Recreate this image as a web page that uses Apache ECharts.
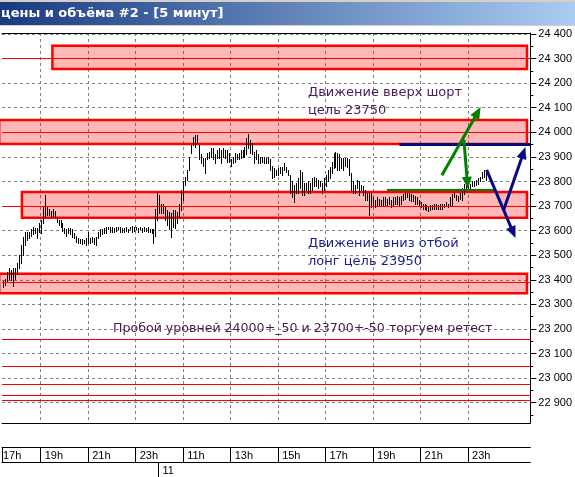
<!DOCTYPE html>
<html><head><meta charset="utf-8">
<script src="https://cdn.jsdelivr.net/npm/echarts@6/dist/echarts.min.js"></script>
<style>html,body{margin:0;padding:0;background:#fff}#c{width:575px;height:477px}</style>
</head><body><div id="c"></div>
<script>
// ---- data ----
const barStart = 5; // index of first 5-minute bar (17:00 = 0)
const highs = [
23395,23405,23430,23450,23440,23450,23450,23470,23500,23540,
23575,23595,23595,23595,23605,23615,23610,23610,23630,23645,
23695,23745,23695,23690,23680,23690,23680,23655,23645,23645,
23630,23610,23605,23610,23610,23605,23590,23580,23570,23565,
23565,23560,23570,23595,23570,23575,23570,23575,23595,23605,
23605,23610,23615,23615,23615,23615,23610,23615,23615,23615,
23610,23610,23615,23605,23615,23620,23615,23615,23610,23615,
23610,23615,23610,23615,23605,23605,23605,23690,23755,23745,
23710,23710,23695,23685,23675,23670,23685,23685,23675,23710,
23765,23800,23820,23845,23900,23950,23980,23990,23990,23950,
23910,23895,23895,23915,23920,23935,23935,23910,23930,23935,
23930,23935,23930,23930,23915,23890,23900,23915,23910,23915,
23930,23930,23940,23975,23995,23970,23955,23920,23930,23910,
23900,23900,23900,23895,23900,23890,23865,23855,23845,23855,
23860,23860,23875,23860,23845,23825,23800,23785,23795,23815,
23845,23840,23795,23795,23800,23795,23815,23820,23815,23805,
23800,23795,23815,23825,23845,23860,23880,23915,23920,23915,
23910,23895,23895,23895,23895,23890,23835,23800,23785,23805,
23800,23785,23780,23765,23755,23755,23755,23735,23725,23735,
23730,23725,23735,23735,23730,23735,23725,23735,23735,23740,
23735,23740,23750,23755,23755,23755,23750,23745,23740,23735,
23725,23715,23710,23710,23705,23700,23705,23705,23710,23710,
23705,23710,23710,23710,23715,23710,23735,23750,23755,23745,
23740,23755,23775,23790,23785,23790,23790,23800,23800,23805,
23815,23820,23840,23845,23840];
const lows = [
23370,23380,23390,23405,23400,23375,23405,23425,23450,23470,
23500,23540,23560,23570,23580,23585,23590,23570,23595,23590,
23630,23655,23665,23665,23655,23660,23655,23635,23625,23615,
23600,23590,23580,23590,23585,23575,23570,23555,23550,23550,
23545,23550,23540,23550,23550,23555,23545,23540,23570,23580,
23585,23590,23590,23605,23595,23595,23595,23600,23605,23595,
23595,23595,23600,23595,23605,23595,23600,23605,23595,23605,
23595,23600,23600,23595,23595,23590,23550,23580,23645,23670,
23670,23670,23645,23625,23605,23575,23615,23610,23630,23655,
23685,23725,23785,23805,23845,23915,23950,23940,23955,23890,
23875,23865,23835,23890,23895,23900,23890,23875,23895,23895,
23875,23900,23895,23880,23880,23865,23875,23880,23890,23890,
23895,23900,23900,23910,23935,23915,23910,23875,23890,23875,
23875,23880,23875,23875,23875,23845,23815,23820,23825,23825,
23835,23825,23845,23840,23825,23755,23735,23715,23755,23755,
23775,23745,23745,23765,23755,23755,23765,23780,23780,23775,
23780,23755,23765,23780,23800,23815,23835,23855,23860,23845,
23845,23855,23845,23865,23860,23825,23765,23755,23755,23775,
23745,23765,23745,23725,23725,23665,23695,23705,23695,23705,
23700,23705,23700,23705,23700,23710,23695,23705,23710,23710,
23700,23710,23725,23730,23735,23725,23720,23720,23710,23710,
23700,23695,23690,23690,23685,23680,23685,23690,23690,23690,
23690,23690,23690,23695,23700,23695,23700,23705,23735,23725,
23720,23730,23725,23750,23765,23770,23775,23780,23780,23785,
23790,23800,23815,23820,23805];
const lastClose = 23811;

const priceTicks = [22900,23000,23100,23200,23300,23400,23500,23600,23700,23800,23900,24000,24100,24200,24300,24400];
const minorPriceTicks = [22850,22950,23050,23150,23250,23350,23450,23550,23650,23750,23850,23950,24050,24150,24250,24350];
const timeTickValues = [0,24,48,72,96,120,144,168,192,216,240];
const timeTickLabels = ['17h','19h','21h','23h','11h','13h','15h','17h','19h','21h','23h'];
const dayBreaks = [83.5];
const dayLabels = ['11'];

// zones: [startBar, endBar, lowPrice, highPrice]
const zones = [
  [29.9, 269.8, 24258, 24352],
  [3, 269.8, 23952, 24050],
  [14.5, 269.8, 23652, 23757],
  [3, 269.8, 23345, 23425]
];
const levels = [24300, 24000, 23700, 23390, 23160, 23050, 22975, 22930, 22910];
// arrows: [fromBar, fromPrice, toBar, toPrice]
const greenArrows = [[226.8, 23825, 246.4, 24103], [237.9, 23970, 239.9, 23770]];
const navyArrows = [[249.4, 23847, 264, 23570], [258, 23684, 269, 23940]];
// segments: [fromBar, toBar, price]
const greenSegments = [[199, 254, 23765]];
const navySegments = [[205.3, 271.5, 23950]];

// ---- chart ----
const X_MIN = 4.42, X_MAX = 271.5, Y_MIN = 22817.6, Y_MAX = 24404;
const fmtPrice = v => { const s = String(Math.round(v)); return s.slice(0, s.length - 3) + ' ' + s.slice(-3); };
const axisFont = { fontFamily: 'Liberation Sans', fontSize: 11, color: '#000' };
const labelTickValues = timeTickValues.map(v => Math.max(v, X_MIN));

function renderBar(params, api) {
  const t = api.coord([api.value(0), api.value(1)]);
  const b = api.coord([api.value(0), api.value(2)]);
  const x = Math.round(t[0]) + 0.5;
  return { type: 'line', shape: { x1: x, y1: Math.round(t[1]), x2: x, y2: Math.round(b[1]) + 1 },
    style: { stroke: '#000', lineWidth: 1 } };
}
function renderZone(params, api) {
  const p0 = api.coord([api.value(0), api.value(3)]);
  const p1 = api.coord([api.value(1), api.value(2)]);
  return { type: 'rect', shape: { x: p0[0], y: p0[1], width: p1[0] - p0[0], height: p1[1] - p0[1] },
    style: { fill: 'rgba(255,0,0,0.28)', stroke: '#ff0000', lineWidth: 2.5 } };
}
function arrowRenderer(color) {
  return function (params, api) {
    const a = api.coord([api.value(0), api.value(1)]);
    const b = api.coord([api.value(2), api.value(3)]);
    const dx = b[0] - a[0], dy = b[1] - a[1], L = Math.hypot(dx, dy), ux = dx / L, uy = dy / L;
    const hl = 12, hw = 5;
    const base = [b[0] - ux * hl, b[1] - uy * hl];
    return { type: 'group', children: [
      { type: 'line', shape: { x1: a[0], y1: a[1], x2: base[0] + ux * 2, y2: base[1] + uy * 2 }, style: { stroke: color, lineWidth: 3 } },
      { type: 'polygon', shape: { points: [b, [base[0] - uy * hw, base[1] + ux * hw], [base[0] + uy * hw, base[1] - ux * hw]] }, style: { fill: color } }
    ] };
  };
}
function segmentRenderer(color, w) {
  return function (params, api) {
    const a = api.coord([api.value(0), api.value(2)]);
    const b = api.coord([api.value(1), api.value(2)]);
    return { type: 'line', shape: { x1: a[0], y1: a[1], x2: b[0], y2: b[1] }, style: { stroke: color, lineWidth: w } };
  };
}

const chart = echarts.init(document.getElementById('c'), null, { renderer: 'canvas' });
const dash = { color: '#808080', type: [3, 3], width: 1 };

chart.setOption({
  animation: false,
  backgroundColor: '#fff',
  grid: { left: 0, right: 43, top: 33, bottom: 54 },
  xAxis: [
    { type: 'value', min: X_MIN, max: X_MAX, position: 'bottom',
      axisLine: { show: true, onZero: false, lineStyle: { color: '#000', width: 1 } },
      axisTick: { show: false, customValues: timeTickValues },
      axisLabel: { show: false },
      splitLine: { show: true, lineStyle: dash } },
    { type: 'value', min: X_MIN, max: X_MAX, position: 'bottom', offset: 24,
      axisLine: { show: true, onZero: false, lineStyle: { color: '#000', width: 1 } },
      axisTick: { show: true, length: 15, customValues: labelTickValues, lineStyle: { color: '#000' } },
      axisLabel: { show: true, customValues: labelTickValues, align: 'left', margin: 3, ...axisFont,
        formatter: v => { const i = labelTickValues.indexOf(v); const s = i >= 0 ? timeTickLabels[i] : ''; return i === 0 ? '{f|' + s + '}' : s; },
        padding: [0, 0, 0, 4],
        rich: { f: { padding: [0, 0, 0, -3], fontFamily: 'Liberation Sans', fontSize: 11, color: '#000' } } },
      splitLine: { show: false } },
    { type: 'value', min: X_MIN, max: X_MAX, position: 'bottom', offset: 39,
      axisLine: { show: true, onZero: false, lineStyle: { color: '#000', width: 1 } },
      axisTick: { show: true, length: 15, customValues: dayBreaks, lineStyle: { color: '#000' } },
      axisLabel: { show: true, customValues: dayBreaks, align: 'left', margin: 3, padding: [0, 0, 0, 4], ...axisFont,
        formatter: v => { const i = dayBreaks.indexOf(v); return i >= 0 ? dayLabels[i] : ''; } },
      splitLine: { show: false } },
    { type: 'value', min: X_MIN, max: X_MAX, position: 'top',
      axisLine: { show: true, onZero: false, lineStyle: { color: '#000', width: 1 } },
      axisTick: { show: false }, axisLabel: { show: false }, splitLine: { show: false } }
  ],
  yAxis: [
    { type: 'value', min: Y_MIN, max: Y_MAX, position: 'right',
      axisLine: { show: true, onZero: false, lineStyle: { color: '#000', width: 1 } },
      axisTick: { show: true, length: 6, customValues: priceTicks, lineStyle: { color: '#000' } },
      axisLabel: { show: true, customValues: priceTicks, margin: 8, ...axisFont, formatter: fmtPrice },
      splitLine: { show: true, lineStyle: dash } },
    { type: 'value', min: Y_MIN, max: Y_MAX, position: 'right',
      axisLine: { show: false },
      axisTick: { show: true, length: 3, customValues: minorPriceTicks, lineStyle: { color: '#000' } },
      axisLabel: { show: false }, splitLine: { show: false } }
  ],
  series: [
    { type: 'custom', name: 'zones', z: 1, renderItem: renderZone, data: zones, silent: true },
    { type: 'line', name: 'levels', z: 2, data: [], silent: true,
      markLine: { silent: true, symbol: 'none', animation: false, label: { show: false },
        lineStyle: { color: '#ff0000', width: 1, type: 'solid' },
        data: levels.map(v => ({ yAxis: v })) } },
    { type: 'custom', name: 'bars', z: 3, renderItem: renderBar, silent: true,
      encode: { x: 0, y: [1, 2] },
      data: highs.map((h, k) => [barStart + k, h, lows[k]]),
      markLine: { silent: true, symbol: 'none', animation: false,
        lineStyle: { opacity: 0 },
        label: { show: true, position: 'end', distance: 5, formatter: () => fmtPrice(lastClose),
          backgroundColor: '#fff', borderColor: '#000', borderWidth: 1, padding: [2, 4, 1, 3],
          fontFamily: 'Liberation Sans', fontSize: 11, color: '#000' },
        data: [{ yAxis: lastClose }] } },
    { type: 'custom', name: 'greenSeg', z: 4, renderItem: segmentRenderer('#008000', 2), data: greenSegments, silent: true },
    { type: 'custom', name: 'navySeg', z: 4, renderItem: segmentRenderer('#0a0a80', 3), data: navySegments, silent: true },
    { type: 'custom', name: 'greenArrows', z: 5, renderItem: arrowRenderer('#008000'), data: greenArrows, silent: true },
    { type: 'custom', name: 'navyArrows', z: 5, renderItem: arrowRenderer('#0a0a80'), data: navyArrows, silent: true }
  ],
  graphic: [
    { type: 'rect', z: 100, shape: { x: 0, y: 0, width: 575, height: 2 }, style: { fill: '#d4d0c8' } },
    { type: 'rect', z: 100, shape: { x: 0, y: 2, width: 575, height: 23 },
      style: { fill: new echarts.graphic.LinearGradient(0, 0, 1, 0, [{ offset: 0, color: '#1a3a80' }, { offset: 1, color: '#a8ccf2' }]) } },
    { type: 'rect', z: 100, shape: { x: 0, y: 25, width: 575, height: 1 }, style: { fill: '#d4d0c8' } },
    { type: 'text', z: 101, x: 1, y: 14, style: { text: 'цены и объёма #2 - [5 минут]', fill: '#fff',
      font: 'bold 13px "DejaVu Sans"', verticalAlign: 'middle' } },
    // window buttons
    ...[517, 535, 555].map((bx, k) => ({ type: 'group', z: 101, x: bx, y: 6, children: [
      { type: 'rect', shape: { x: 0, y: 0, width: 16, height: 14 }, style: { fill: '#d4d0c8', stroke: '#404040', lineWidth: 1 } },
      { type: 'polyline', shape: { points: [[0.5, 13], [0.5, 0.5], [15, 0.5]] }, style: { stroke: '#fff', lineWidth: 1 } },
      k === 0 ? { type: 'rect', shape: { x: 4, y: 9, width: 6, height: 2 }, style: { fill: '#000' } } :
      k === 1 ? { type: 'rect', shape: { x: 3.5, y: 2.5, width: 9, height: 8 }, style: { fill: 'none', stroke: '#000', lineWidth: 1 } } :
      { type: 'text', x: 8, y: 7.5, style: { text: 'X', font: 'bold 12px "Liberation Sans"', fill: '#000', align: 'center', verticalAlign: 'middle' } }
    ] })),
    { type: 'text', z: 50, x: 308, y: 84, style: { text: 'Движение вверх шорт\nцель 23750', fill: '#4a1a5a',
      font: '13px "DejaVu Sans"', lineHeight: 18, verticalAlign: 'top' } },
    { type: 'text', z: 50, x: 308, y: 234, style: { text: 'Движение вниз отбой\nлонг цель 23950', fill: '#1c1c8c',
      font: '13px "DejaVu Sans"', lineHeight: 18.5, verticalAlign: 'top' } },
    { type: 'text', z: 50, x: 113, y: 329, style: { text: 'Пробой уровней 24000+_50 и 23700+-50 торгуем ретест', fill: '#4a1a4a',
      font: '12.6px "DejaVu Sans"', verticalAlign: 'middle' } }
  ]
});
</script></body></html>
